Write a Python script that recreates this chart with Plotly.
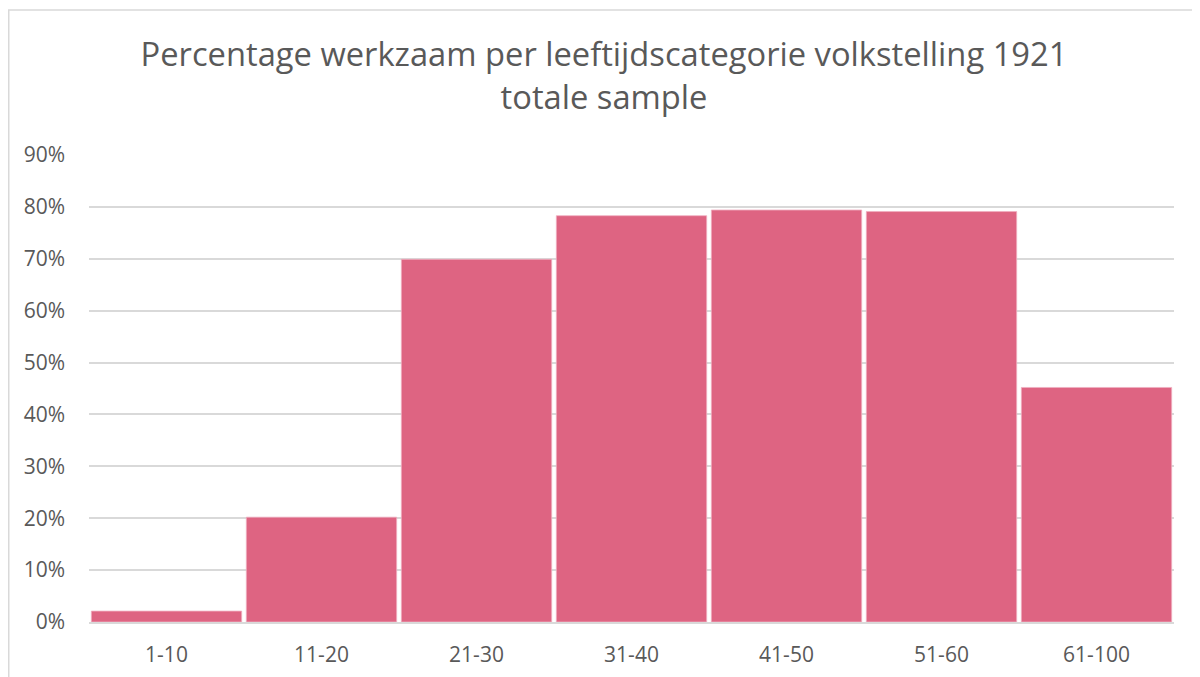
import plotly.graph_objects as go

categories = ["1-10", "11-20", "21-30", "31-40", "41-50", "51-60", "61-100"]
values = [0.021, 0.202, 0.699, 0.783, 0.794, 0.791, 0.452]
y_ticks = [0, 0.1, 0.2, 0.3, 0.4, 0.5, 0.6, 0.7, 0.8, 0.9]
title_text = "Percentage werkzaam per leeftijdscategorie volkstelling 1921<br>totale sample"

# page body has an 8px margin, so the figure is sized to fit inside the window
W, H = 1192, 669
L, R, T, B = 81, 26, 147, 55
pw = W - L - R
ph = H - T - B

fig = go.Figure(go.Bar(
    x=categories, y=values,
    marker=dict(color="#DE6482", line=dict(color="#F0AFC0", width=0.8)),
))

fig.update_layout(
    width=W, height=H,
    margin=dict(l=L, r=R, t=T, b=B, autoexpand=False),
    paper_bgcolor="white", plot_bgcolor="white",
    bargap=0.03,
    showlegend=False,
    font=dict(family="Open Sans, sans-serif", color="#595959"),
    title=dict(
        text=title_text,
        x=0.5, xanchor="center", xref="container",
        y=1 - 58 / H, yanchor="top", yref="container",
        font=dict(size=32.7, color="#595959", family="Open Sans, sans-serif"),
    ),
    xaxis=dict(
        automargin=False,
        showgrid=False, showline=True, linecolor="#D9D9D9", linewidth=1.5,
        ticks="", tickfont=dict(size=21, color="#595959"), ticklabelstandoff=13,
    ),
    yaxis=dict(
        automargin=False,
        range=[0, 0.9], tickvals=y_ticks, tickformat=".0%",
        showgrid=True, gridcolor="#D9D9D9", gridwidth=1.5,
        zeroline=False, showline=False, ticks="",
        tickfont=dict(size=21, color="#595959"), ticklabelstandoff=23,
    ),
    shapes=[dict(
        type="rect", xref="paper", yref="paper",
        x0=(0.75 - L) / pw, x1=(W + 10 - L) / pw,
        y0=-(B + 10) / ph, y1=1 + (T - 2) / ph,
        line=dict(color="#D9D9D9", width=1.5), fillcolor="rgba(0,0,0,0)",
        layer="below",
    )],
)

fig.write_html("out.html")
